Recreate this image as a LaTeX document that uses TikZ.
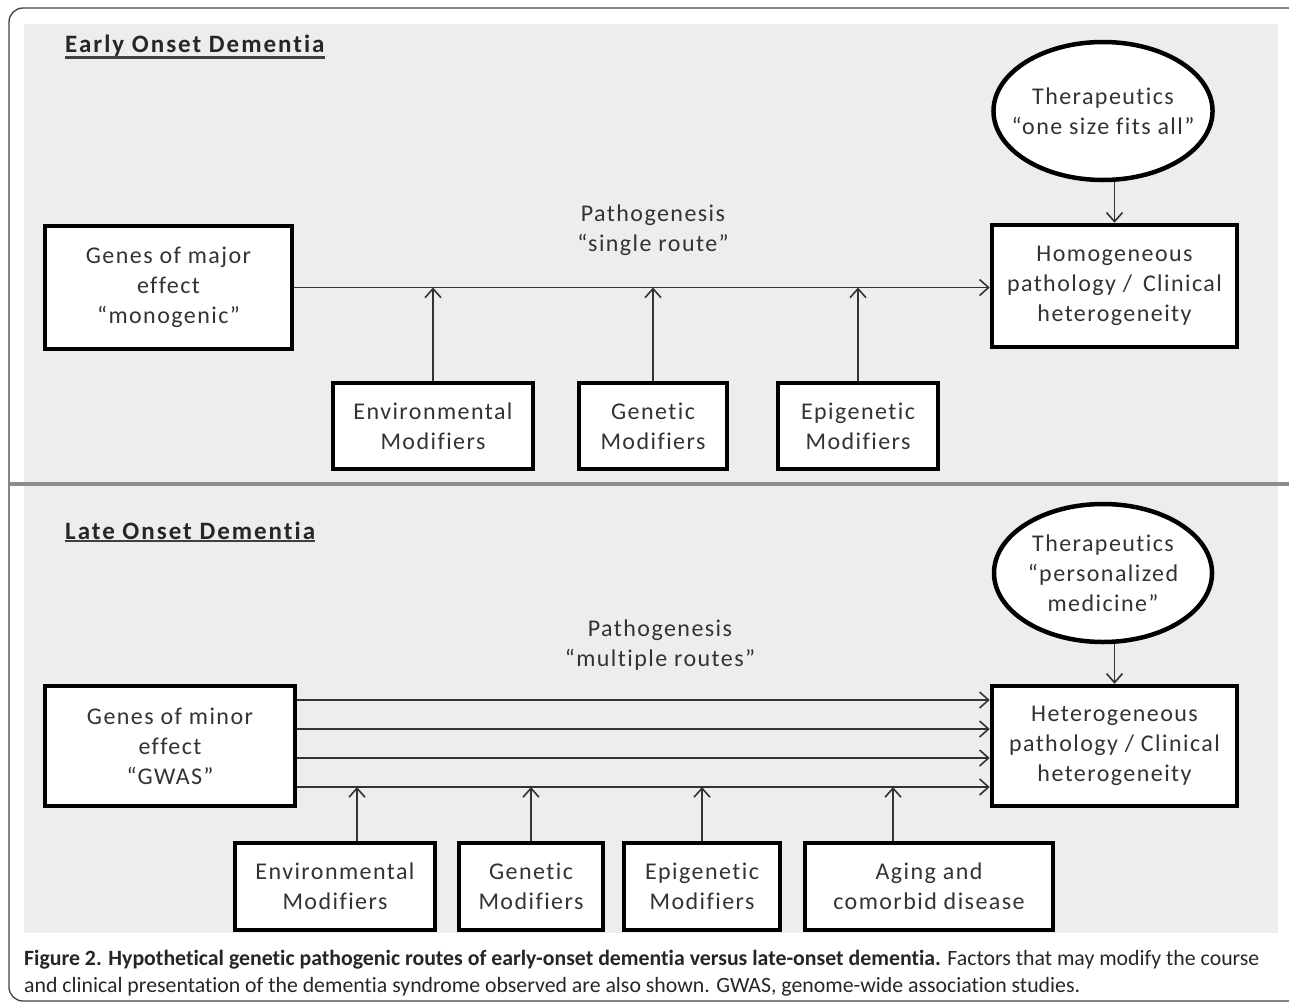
\documentclass[tikz,border=0pt]{standalone}
\usepackage{fontspec}
\setmainfont{Carlito}[Ligatures=NoCommon]
\newfontfamily\diafont[LetterSpace=6,Ligatures=NoCommon]{Carlito}
\newfontfamily\headfont[LetterSpace=8,Ligatures=NoCommon]{Carlito}
\usetikzlibrary{shapes.geometric,arrows.meta}

\begin{document}
\begin{tikzpicture}[x=1pt,y=-1pt]
  \tikzset{box/.style={draw=black,line width=4.5pt,fill=white,align=center,text=black!80,
      font=\diafont\fontsize{24}{30}\selectfont,inner sep=0pt},
    ther/.style={box,ellipse,minimum width=218,minimum height=138,inner xsep=-14pt},
    route/.style={draw=black!80,line width=1.6pt,-{Straight Barb[length=9pt,width=16pt,line width=1.6pt]}},
    lbl/.style={align=center,text=black!80,font=\diafont\fontsize{24}{30}\selectfont},
    head/.style={font=\headfont\bfseries\fontsize{25}{30}\selectfont,text=black!85,inner sep=0pt}}
  \useasboundingbox (0,0) rectangle (1289,1004);
  \begin{scope}
    \clip (0,0) rectangle (1289,1004);
    \draw[black!75,line width=1.3pt,rounded corners=14pt] (9,8) rectangle (1302,1001);
  \end{scope}
  \fill[black!7] (24,24) rectangle (1278,933);
  \draw[black!45,line width=3.5pt] (10,484) -- (1289,484);
  %early onset
  \node[head,anchor=base west] (EARLY) at (65,52) {Early Onset Dementia};
  \draw[black!75,line width=2.5pt] ([yshift=-1.5pt]EARLY.south west) -- ([yshift=-1.5pt]EARLY.south east);
  \node[box,minimum width=247,minimum height=123] (MAJOR) at (168.5,287.5) {Genes of major\\effect\\“monogenic”};
  \node[box,minimum width=245,minimum height=122] (HOMO) at (1114.5,286) {Homogeneous\\pathology /\, Clinical\\heterogeneity};
  \node[ther] (THERA) at (1103,111) {Therapeutics\\“one size fits all”};
  \node[lbl] (PATHA) at (653,230) {Pathogenesis\\“single route”};
  \node[box,minimum width=200,minimum height=86] (ENVA) at (433,426) {Environmental\\Modifiers};
  \node[box,minimum width=148,minimum height=86] (GENA) at (653,426) {Genetic\\Modifiers};
  \node[box,minimum width=160,minimum height=86] (EPIA) at (858,426) {Epigenetic\\Modifiers};
  %links
  \draw[route] (MAJOR.east) -- (MAJOR.east -| HOMO.west);
  \draw[route] (THERA.south -| HOMO.north) -- (HOMO.north);
  \foreach \m in {ENVA,GENA,EPIA}
    \draw[route] (\m.north) -- (\m.north |- MAJOR.east);
  %late onset
  \node[head,anchor=base west] (LATE) at (65,539) {Late Onset Dementia};
  \draw[black!75,line width=2.5pt] ([yshift=-1.5pt]LATE.south west) -- ([yshift=-1.5pt]LATE.south east);
  \node[box,minimum width=250,minimum height=120] (MINOR) at (170,746) {Genes of minor\\effect\\“GWAS”};
  \node[box,minimum width=245,minimum height=120] (HETERO) at (1114.5,746) {Heterogeneous\\pathology / Clinical\\heterogeneity};
  \node[ther] (THERB) at (1103,573) {Therapeutics\\“personalized\\medicine”};
  \node[lbl] (PATHB) at (660,645) {Pathogenesis\\“multiple routes”};
  \node[box,minimum width=200,minimum height=87] (ENVB) at (335,886.5) {Environmental\\Modifiers};
  \node[box,minimum width=144,minimum height=87] (GENB) at (531,886.5) {Genetic\\Modifiers};
  \node[box,minimum width=156,minimum height=87] (EPIB) at (702,886.5) {Epigenetic\\Modifiers};
  \node[box,minimum width=248,minimum height=87] (AGING) at (929,886.5) {Aging and\\comorbid disease};
  %routes
  \foreach \dy in {46,17,-12,-41}
    \draw[route] ([yshift=\dy pt]MINOR.east) -- ([yshift=\dy pt]HETERO.west);
  \coordinate (low) at ([yshift=-41pt]MINOR.east);
  \draw[route] (THERB.south -| HETERO.north) -- (HETERO.north);
  \draw[route] ([xshift=22pt]ENVB.north) -- ([xshift=22pt]ENVB.north |- low);
  \draw[route] (GENB.north) -- (GENB.north |- low);
  \draw[route] (EPIB.north) -- (EPIB.north |- low);
  \draw[route] ([xshift=-36pt]AGING.north) -- ([xshift=-36pt]AGING.north |- low);
  %caption
  \node[anchor=north west,align=left,inner sep=0pt,text=black!85,font=\fontsize{21.8}{27}\selectfont] (CAPTION) at (24,950)
    {\textbf{Figure 2. Hypothetical genetic pathogenic routes of early-onset dementia versus late-onset dementia.} Factors that may modify the course\\
     and clinical presentation of the dementia syndrome observed are also shown. GWAS, genome-wide association studies.};
\end{tikzpicture}
\end{document}
